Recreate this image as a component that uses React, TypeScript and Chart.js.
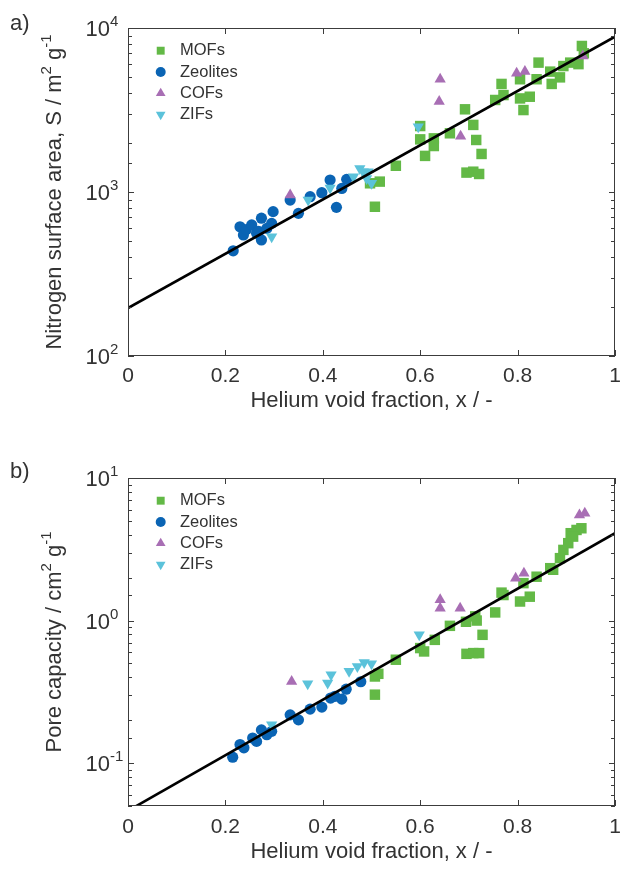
import React, { useEffect, useRef } from 'react';
import { Chart, registerables } from 'chart.js';
Chart.register(...registerables);

const FONT = '"Liberation Sans", Arial, Helvetica, sans-serif';
const TEXT = '#333333';
const FRAME = '#3c3c3c';

// ---- categories / legend ----
const seriesNames = ['MOFs', 'Zeolites', 'COFs', 'ZIFs'];
const seriesColors = ['#63B946', '#0A64B4', '#A86EB4', '#5BC2DA'];
const seriesStyles = ['rect', 'circle', 'triangle', 'triangle'];
const seriesRotations = [0, 0, 0, 180];
const seriesRadii = [7.4, 5.6, 6.5, 6.5];

const xTicks = [0, 0.2, 0.4, 0.6, 0.8, 1];
const xTitle = 'Helium void fraction, x / -';

// ---- panel a: nitrogen surface area ----
const mofsXA = [0.497, 0.517, 0.507, 0.55, 0.6, 0.61, 0.6, 0.628, 0.628, 0.661, 0.692, 0.709, 0.715, 0.726, 0.695, 0.709, 0.721, 0.754, 0.767, 0.771, 0.805, 0.812, 0.825, 0.805, 0.839, 0.843, 0.867, 0.87, 0.887, 0.894, 0.908, 0.925, 0.932, 0.936];
const mofsSA = [1130, 1157, 813, 1445, 2094, 1660, 2524, 2124, 1907, 2280, 3193, 2565, 2076, 1706, 1313, 1330, 1288, 3640, 4560, 3900, 3720, 3160, 3810, 4870, 4870, 6150, 5420, 4560, 5000, 5860, 6150, 6020, 7770, 7010];
const zeoXA = [0.216, 0.23, 0.237, 0.243, 0.254, 0.264, 0.268, 0.274, 0.274, 0.285, 0.295, 0.298, 0.333, 0.35, 0.374, 0.398, 0.415, 0.428, 0.439, 0.449];
const zeoSA = [438, 614, 547, 590, 630, 560, 575, 692, 510, 600, 644, 759, 893, 741, 936, 990, 1183, 806, 1051, 1194];
const cofXA = [0.333, 0.641, 0.639, 0.683, 0.798, 0.815, 0.934];
const cofSA = [960, 4870, 3560, 2190, 5300, 5420, 6750];
const zifXA = [0.295, 0.37, 0.415, 0.463, 0.476, 0.483, 0.49, 0.493, 0.5, 0.596];
const zifSA = [533, 893, 1057, 1240, 1390, 1330, 1210, 1330, 1130, 2500];
const fitXA = [0, 1];
const fitSA = [196, 8850];
const yMinA = 100;
const yMaxA = 10000;
const yTickExpA = ['2', '3', '4'];

// ---- panel b: pore capacity ----
const mofsXB = [0.507, 0.514, 0.507, 0.55, 0.6, 0.608, 0.63, 0.661, 0.694, 0.713, 0.716, 0.728, 0.695, 0.709, 0.721, 0.754, 0.767, 0.771, 0.805, 0.825, 0.812, 0.839, 0.867, 0.873, 0.887, 0.894, 0.904, 0.909, 0.921, 0.931, 0.914];
const mofsPC = [0.405, 0.423, 0.302, 0.531, 0.641, 0.607, 0.732, 0.918, 0.98, 1.07, 1.0, 0.794, 0.584, 0.591, 0.591, 1.14, 1.57, 1.51, 1.36, 1.47, 1.83, 2.03, 2.33, 2.27, 2.74, 3.13, 3.49, 4.1, 4.32, 4.44, 3.88];
const zeoXB = [0.215, 0.23, 0.238, 0.256, 0.264, 0.274, 0.285, 0.295, 0.333, 0.35, 0.374, 0.398, 0.416, 0.425, 0.439, 0.448, 0.478];
const zeoPC = [0.11, 0.135, 0.128, 0.15, 0.142, 0.171, 0.158, 0.167, 0.218, 0.201, 0.239, 0.247, 0.286, 0.294, 0.281, 0.33, 0.372];
const cofXB = [0.336, 0.641, 0.641, 0.682, 0.796, 0.813, 0.927, 0.938];
const cofPC = [0.374, 1.4, 1.22, 1.22, 1.98, 2.15, 5.5, 5.66];
const zifXB = [0.295, 0.369, 0.41, 0.417, 0.454, 0.471, 0.485, 0.5, 0.598];
const zifPC = [0.186, 0.36, 0.364, 0.417, 0.44, 0.476, 0.508, 0.497, 0.794];
const fitXB = [0, 1];
const fitPC = [0.0463, 4.1];
const yMinB = 0.05;
const yMaxB = 10;
const yTickExpB = ['-1', '0', '1'];

type Part = { t: string; sup?: boolean };
const yTitleA: Part[] = [{ t: 'Nitrogen surface area, S / m' }, { t: '2', sup: true }, { t: ' g' }, { t: '-1', sup: true }];
const yTitleB: Part[] = [{ t: 'Pore capacity / cm' }, { t: '2', sup: true }, { t: ' g' }, { t: '-1', sup: true }];

const MAIN = 22;
const SUP = 15;
const RISE = 8;

function drawParts(ctx: CanvasRenderingContext2D, parts: Part[], x: number, y: number) {
  const widths = parts.map((p) => {
    ctx.font = `${p.sup ? SUP : MAIN}px ${FONT}`;
    return ctx.measureText(p.t).width;
  });
  const total = widths.reduce((a, b) => a + b, 0);
  let cx = x - total / 2;
  ctx.textAlign = 'left';
  ctx.textBaseline = 'middle';
  parts.forEach((p, i) => {
    ctx.font = `${p.sup ? SUP : MAIN}px ${FONT}`;
    ctx.fillText(p.t, cx, p.sup ? y - RISE : y);
    cx += widths[i];
  });
}

function markerPath(ctx: CanvasRenderingContext2D, style: string, rot: number, x: number, y: number, r: number) {
  ctx.beginPath();
  if (style === 'rect') {
    const s = Math.SQRT1_2 * r;
    ctx.rect(x - s, y - s, 2 * s, 2 * s);
  } else if (style === 'circle') {
    ctx.arc(x, y, r, 0, Math.PI * 2);
  } else {
    let a = (rot * Math.PI) / 180;
    for (let k = 0; k < 3; k++) {
      const px = x + Math.sin(a) * r;
      const py = y - Math.cos(a) * r;
      if (k === 0) ctx.moveTo(px, py);
      else ctx.lineTo(px, py);
      a += (2 * Math.PI) / 3;
    }
    ctx.closePath();
  }
}

function makeDecor(panel: string, panelY: number, exps: string[], yTitle: Part[]) {
  return {
    id: 'decor' + panel,
    afterDatasetsDraw(chart: any) {
      const ctx: CanvasRenderingContext2D = chart.ctx;
      const { left, right, top, bottom } = chart.chartArea;
      const xs = chart.scales.x;
      const ys = chart.scales.y;
      ctx.save();
      // frame
      ctx.strokeStyle = FRAME;
      ctx.lineWidth = 1;
      ctx.strokeRect(left + 0.5, top + 0.5, right - left - 1, bottom - top - 1);
      // x ticks (inward, bottom & top)
      ctx.beginPath();
      xTicks.forEach((v) => {
        const px = Math.round(xs.getPixelForValue(v)) + 0.5;
        ctx.moveTo(px, bottom);
        ctx.lineTo(px, bottom - 6);
        ctx.moveTo(px, top);
        ctx.lineTo(px, top + 6);
      });
      // y ticks (log, inward, left & right)
      ys.ticks.forEach((t: any) => {
        const v = t.value;
        const lg = Math.log10(v);
        const major = Math.abs(lg - Math.round(lg)) < 1e-6;
        const len = major ? 6 : 4;
        const py = Math.round(ys.getPixelForValue(v)) + 0.5;
        ctx.moveTo(left, py);
        ctx.lineTo(left + len, py);
        ctx.moveTo(right, py);
        ctx.lineTo(right - len, py);
      });
      ctx.stroke();

      ctx.fillStyle = TEXT;
      // y tick labels 10^n
      exps.forEach((e) => {
        const py = ys.getPixelForValue(Math.pow(10, Number(e)));
        ctx.textBaseline = 'middle';
        ctx.font = `${MAIN}px ${FONT}`;
        ctx.textAlign = 'right';
        ctx.fillText('10', 110, py + 2);
        ctx.font = `${SUP}px ${FONT}`;
        ctx.textAlign = 'left';
        ctx.fillText(e, 110, py - 6);
      });
      // y title
      ctx.save();
      ctx.translate(55, (top + bottom) / 2);
      ctx.rotate(-Math.PI / 2);
      drawParts(ctx, yTitle, 0, 0);
      ctx.restore();
      // panel label
      ctx.font = `${MAIN}px ${FONT}`;
      ctx.textAlign = 'left';
      ctx.textBaseline = 'middle';
      ctx.fillText(panel + ')', 10, panelY);
      // legend
      seriesNames.forEach((name, i) => {
        const cy = top + 22.7 + i * 21.3;
        const cx = left + 32.7;
        ctx.fillStyle = seriesColors[i];
        const r = seriesStyles[i] === 'rect' ? 5.6 : seriesStyles[i] === 'circle' ? 5 : 5.6;
        markerPath(ctx, seriesStyles[i], seriesRotations[i], cx, cy, r);
        ctx.fill();
        ctx.fillStyle = TEXT;
        ctx.font = `16.5px ${FONT}`;
        ctx.fillText(name, left + 52, cy);
      });
      ctx.restore();
    },
  };
}

function pts(xs: number[], ys: number[]) {
  return xs.map((x, i) => ({ x, y: ys[i] }));
}

function buildConfig(
  series: { x: number[]; y: number[] }[],
  fit: { x: number[]; y: number[] },
  yMin: number,
  yMax: number,
  padTop: number,
  xHeight: number,
  tickPad: number,
  titlePadBottom: number,
  decor: any
): any {
  const datasets: any[] = [
    {
      type: 'line',
      label: 'fit',
      data: pts(fit.x, fit.y),
      borderColor: '#000000',
      borderWidth: 2.6,
      pointRadius: 0,
      fill: false,
      order: 0,
    },
  ];
  series.forEach((s, i) => {
    datasets.push({
      type: 'scatter',
      label: seriesNames[i],
      data: pts(s.x, s.y),
      backgroundColor: seriesColors[i],
      borderColor: seriesColors[i],
      borderWidth: 0,
      pointStyle: seriesStyles[i],
      rotation: seriesRotations[i],
      pointRadius: seriesRadii[i],
      order: 4 - i,
    });
  });
  return {
    type: 'scatter',
    data: { datasets },
    options: {
      responsive: false,
      animation: false,
      devicePixelRatio: 1,
      events: [],
      layout: { padding: { top: padTop, right: 10, left: 0, bottom: 0 } },
      plugins: { legend: { display: false }, tooltip: { enabled: false } },
      scales: {
        x: {
          type: 'linear',
          min: 0,
          max: 1,
          afterFit: (s: any) => {
            s.height = xHeight;
          },
          afterBuildTicks: (s: any) => {
            s.ticks = xTicks.map((v) => ({ value: v }));
          },
          grid: { display: false },
          border: { display: false },
          ticks: {
            padding: tickPad,
            color: TEXT,
            font: { family: FONT, size: 21 },
            maxRotation: 0,
            callback: (v: any) => String(Math.round(Number(v) * 10) / 10),
          },
          title: {
            display: true,
            text: xTitle,
            color: TEXT,
            font: { family: FONT, size: 22 },
            padding: { top: 0, bottom: titlePadBottom },
          },
        },
        y: {
          type: 'logarithmic',
          min: yMin,
          max: yMax,
          afterFit: (s: any) => {
            s.width = 128;
          },
          grid: { display: false },
          border: { display: false },
          ticks: { display: false },
          title: { display: false },
        },
      },
    },
    plugins: [decor],
  };
}

export default function App() {
  const refA = useRef<HTMLCanvasElement>(null);
  const refB = useRef<HTMLCanvasElement>(null);

  useEffect(() => {
    const cA = new Chart(
      refA.current as HTMLCanvasElement,
      buildConfig(
        [
          { x: mofsXA, y: mofsSA },
          { x: zeoXA, y: zeoSA },
          { x: cofXA, y: cofSA },
          { x: zifXA, y: zifSA },
        ],
        { x: fitXA, y: fitSA },
        yMinA,
        yMaxA,
        28,
        79,
        0,
        20.8,
        makeDecor('a', 24, yTickExpA, yTitleA)
      )
    );
    const cB = new Chart(
      refB.current as HTMLCanvasElement,
      buildConfig(
        [
          { x: mofsXB, y: mofsPC },
          { x: zeoXB, y: zeoPC },
          { x: cofXB, y: cofPC },
          { x: zifXB, y: zifPC },
        ],
        { x: fitXB, y: fitPC },
        yMinB,
        yMaxB,
        43,
        64,
        1,
        4.8,
        makeDecor('b', 37, yTickExpB, yTitleB)
      )
    );
    return () => {
      cA.destroy();
      cB.destroy();
    };
  }, []);

  return (
    <div style={{ position: 'fixed', left: 0, top: 0, width: 625, height: 870, background: '#ffffff' }}>
      <canvas ref={refA} width={625} height={435} style={{ position: 'absolute', left: 0, top: 0, display: 'block' }} />
      <canvas ref={refB} width={625} height={435} style={{ position: 'absolute', left: 0, top: 435, display: 'block' }} />
    </div>
  );
}
